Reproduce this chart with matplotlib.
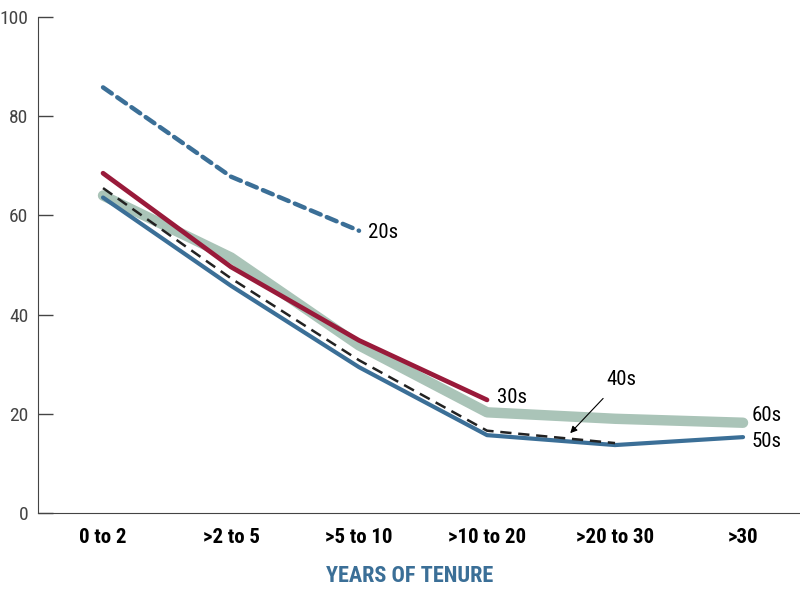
import matplotlib.pyplot as plt
from matplotlib import font_manager

categories = ["0 to 2", ">2 to 5", ">5 to 10", ">10 to 20", ">20 to 30", ">30"]
share_20s = [85.8, 67.8, 56.9]
share_30s = [68.5, 49.6, 34.8, 22.8]
share_40s = [65.5, 47.3, 30.8, 16.6, 14.1]
share_50s = [63.6, 45.8, 29.4, 15.7, 13.7, 15.3]
share_60s = [64.0, 51.5, 33.8, 20.3, 19.0, 18.2]
y_ticks = [0, 20, 40, 60, 80, 100]

BLUE = "#3b6f97"
RED = "#991a3a"
SAGE = "#aac4b8"


def pick_font():
    names = {f.name for f in font_manager.fontManager.ttflist}
    for n in ["Liberation Sans Narrow", "Roboto Condensed", "Liberation Sans", "DejaVu Sans"]:
        if n in names:
            return n
    return "DejaVu Sans"


def main():
    plt.rcParams["font.family"] = [pick_font(), "DejaVu Sans"]
    fig = plt.figure(figsize=(8, 5.92), dpi=100)
    ax = fig.add_axes([0.0475, 0.1334, 0.9525, 0.838])

    x = list(range(len(categories)))
    ax.plot(x[:len(share_60s)], share_60s, color=SAGE, lw=7.5, solid_capstyle="round",
            solid_joinstyle="round", zorder=1)
    ax.plot(x[:len(share_50s)], share_50s, color=BLUE, lw=3.0, solid_capstyle="round", zorder=2)
    ax.plot(x[:len(share_40s)], share_40s, color="#222222", lw=1.8, dashes=(4.5, 2.7), zorder=3)
    ax.plot(x[:len(share_30s)], share_30s, color=RED, lw=3.4, solid_capstyle="round", zorder=4)
    ax.plot(x[:len(share_20s)], share_20s, color=BLUE, lw=3.2, dashes=(2.4, 1.5),
            dash_capstyle="round", zorder=4)

    lab = dict(fontsize=15, color="black", va="center", ha="left")
    ax.text(len(share_20s) - 1 + 0.07, share_20s[-1] - 0.3, "20s", **lab)
    ax.text(len(share_30s) - 1 + 0.08, share_30s[-1] + 0.5, "30s", **lab)
    ax.text(len(share_60s) - 1 + 0.07, share_60s[-1] + 1.5, "60s", **lab)
    ax.text(len(share_50s) - 1 + 0.07, share_50s[-1] - 0.8, "50s", **lab)
    ax.annotate("40s", xy=(3.65, share_40s[4] + 2.0), xytext=(4.05, 27.0),
                fontsize=15, ha="center", va="center",
                arrowprops=dict(arrowstyle="-|>", color="black", lw=0.8,
                                mutation_scale=10, shrinkA=7, shrinkB=0))

    ax.set_xlim(-0.508, 5.445)
    ax.set_ylim(0, 100)
    ax.set_xticks(x)
    ax.set_xticklabels(categories, fontsize=15, fontweight="bold")
    ax.set_yticks(y_ticks)
    ax.set_yticklabels([str(v) for v in y_ticks], fontsize=14, color="#444444")
    ax.tick_params(axis="y", direction="in", length=11, width=1, color="#444444", pad=7)
    ax.tick_params(axis="x", length=0, pad=11)

    ax.spines["top"].set_visible(False)
    ax.spines["right"].set_visible(False)
    ax.spines["left"].set_color("#444444")
    ax.spines["bottom"].set_color("#444444")

    ax.set_xlabel("YEARS OF TENURE", fontsize=16, fontweight="bold", color=BLUE)
    ax.xaxis.set_label_coords(0.488, -0.105)

    plt.savefig("out.png", dpi=100)
    plt.close()


if __name__ == "__main__":
    main()
